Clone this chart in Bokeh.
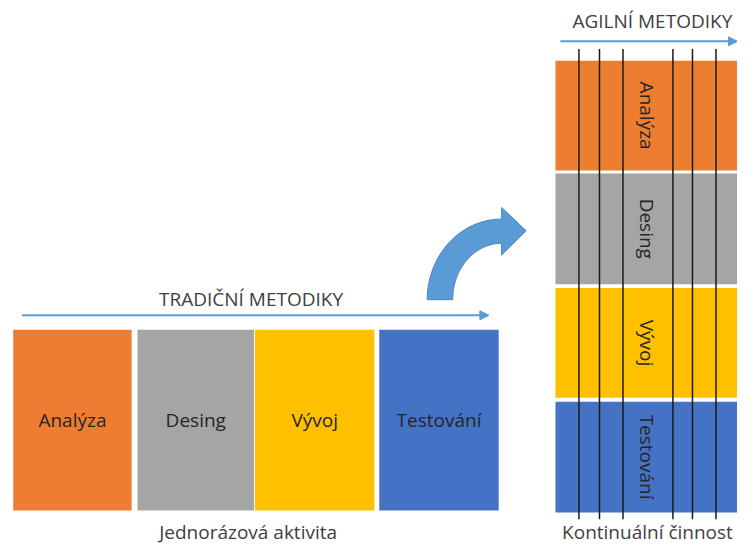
import numpy as np
from bokeh.plotting import figure
from bokeh.models import Range1d, Arrow, NormalHead
from bokeh.core.properties import value
from bokeh.embed import file_html
from bokeh.resources import INLINE

# ---- content ----
phases = ["Analýza", "Desing", "Vývoj", "Testování"]
phase_colors = ["#ED7D31", "#A5A5A5", "#FFC000", "#4472C4"]
title_trad = "TRADIČNÍ METODIKY"
title_agile = "AGILNÍ METODIKY"
caption_trad = "Jednorázová aktivita"
caption_agile = "Kontinuální činnost"

# ---- layout geometry (reference pixel space, 753 x 560) ----
trad_left = [13, 140, 260, 387]
trad_right = [134, 259, 382, 509]
trad_top, trad_bottom = 339, 525
agile_left, agile_right = 567, 760
agile_top = [62, 178, 296, 413]
agile_bottom = [175, 292, 409, 527]
iter_x = [591, 612, 636, 687, 707, 731]
iter_top, iter_bottom = 50, 534

FONT = "Open Sans"
FS = "19px"
TEXT_DARK = "#404040"
ARROW_BLUE = "#5B9BD5"

p = figure(width=737, height=544, x_range=Range1d(0, 753), y_range=Range1d(560, 0),
           output_backend="svg", toolbar_location=None, min_border=0)
p.axis.visible = False
p.grid.visible = False
p.outline_line_color = None
p.background_fill_color = "white"

# traditional blocks
p.quad(left=trad_left, right=trad_right, top=trad_top, bottom=trad_bottom,
       fill_color=phase_colors, line_color=None)
p.text(x=[(l + r) / 2 for l, r in zip(trad_left, trad_right)], y=[432] * 4, text=phases,
       text_align="center", text_baseline="middle", text_font=value(FONT),
       text_font_size=FS, text_color="#262626")

# traditional arrow & texts
p.add_layout(Arrow(x_start=22, y_start=324, x_end=499, y_end=324, line_color=ARROW_BLUE,
                   line_width=2, end=NormalHead(size=9, fill_color=ARROW_BLUE, line_color=ARROW_BLUE)))
p.text(x=[256], y=[307], text=[title_trad], text_align="center", text_baseline="middle",
       text_font=value(FONT), text_font_size=FS, text_color=TEXT_DARK)
p.text(x=[253], y=[561], text=[caption_trad], text_align="center", text_baseline="bottom",
       text_font=value(FONT), text_font_size=FS, text_color=TEXT_DARK)

# agile blocks
p.quad(left=agile_left, right=agile_right, top=agile_top, bottom=agile_bottom,
       fill_color=phase_colors, line_color=None)
p.segment(x0=iter_x, x1=iter_x, y0=iter_top, y1=iter_bottom, line_color="#1a1a1a", line_width=1.5)
p.text(x=[661] * 4, y=[(t + b) / 2 for t, b in zip(agile_top, agile_bottom)], text=phases,
       angle=-np.pi / 2, text_align="center", text_baseline="middle", text_font=value(FONT),
       text_font_size=FS, text_color="#262626")
p.add_layout(Arrow(x_start=572, y_start=42, x_end=753, y_end=42, line_color=ARROW_BLUE,
                   line_width=2, end=NormalHead(size=9, fill_color=ARROW_BLUE, line_color=ARROW_BLUE)))
p.text(x=[666], y=[21], text=[title_agile], text_align="center", text_baseline="middle",
       text_font=value(FONT), text_font_size=FS, text_color=TEXT_DARK)
p.text(x=[661], y=[561], text=[caption_agile], text_align="center", text_baseline="bottom",
       text_font=value(FONT), text_font_size=FS, text_color=TEXT_DARK)

# curved arrow
cx, cy = 512, 308
t = np.linspace(0, np.pi / 2, 40)
outer_x = cx - 76 * np.cos(t)
outer_y = cy - 83 * np.sin(t)
inner_x = cx - 50 * np.cos(t[::-1])
inner_y = cy - 58 * np.sin(t[::-1])
xs = list(outer_x) + [512, 537, 512] + list(inner_x)
ys = list(outer_y) + [213, 237, 262] + list(inner_y)
p.patch(x=xs, y=ys, fill_color=ARROW_BLUE, line_color="#4A86C0", line_width=1)

open("out.html", "w").write(file_html(p, INLINE))
